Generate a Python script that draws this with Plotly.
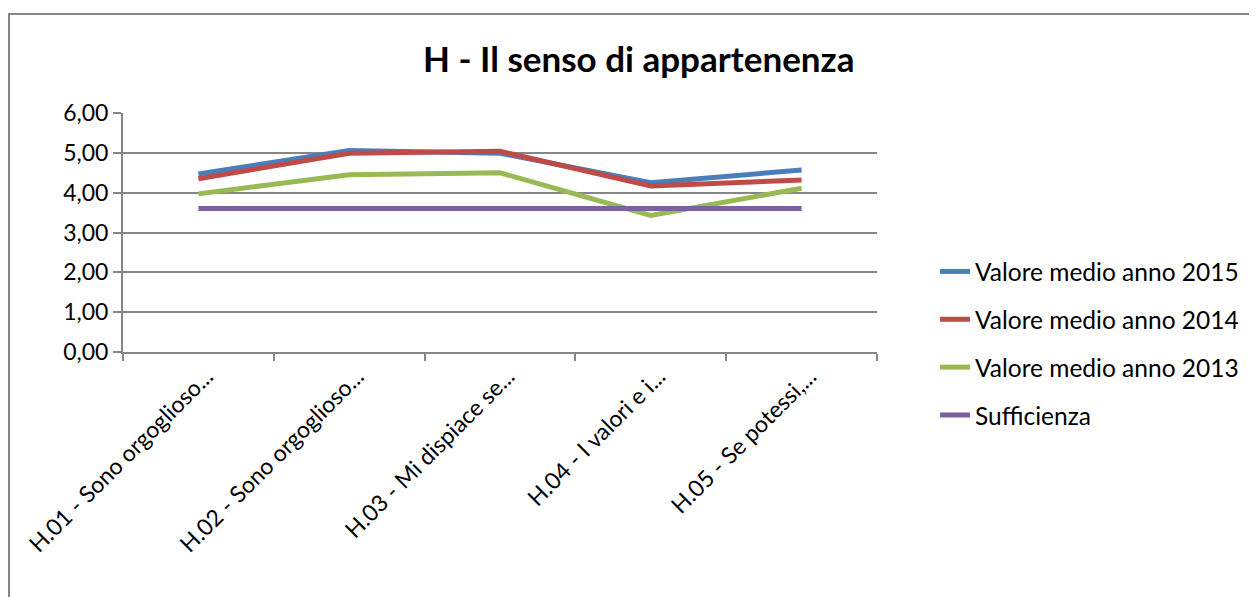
import plotly.graph_objects as go

categories = ["H.01 - Sono orgoglioso...", "H.02 - Sono orgoglioso...", "H.03 - Mi dispiace se...",
              "H.04 - I valori e i...", "H.05 - Se potessi,..."]
val_2015 = [4.47, 5.06, 4.99, 4.25, 4.57]
val_2014 = [4.35, 4.99, 5.04, 4.17, 4.32]
val_2013 = [3.97, 4.45, 4.50, 3.43, 4.11]
sufficienza = [3.60, 3.60, 3.60, 3.60, 3.60]

series = [
    ("Valore medio anno 2015", val_2015, "#4A7EBB"),
    ("Valore medio anno 2014", val_2014, "#BE4B48"),
    ("Valore medio anno 2013", val_2013, "#98B954"),
    ("Sufficienza", sufficienza, "#7D60A0"),
]

FONT = "Lato, 'Open Sans', sans-serif"
FS = 23
fig = go.Figure()
for i, (name, vals, col) in enumerate(series):
    fig.add_trace(go.Scatter(x=categories, y=vals, mode="lines", name=name,
                             legendgroup=f"g{i}",
                             line=dict(color=col, width=5)))

# page body has an 8px margin; figure coordinates = screen - 8
W, H = 1249, 589
L, T = 115, 105
pw, ph = 754, 239
R, B = W - L - pw, H - T - ph
fig.update_layout(
    width=W, height=H,
    margin=dict(l=L, r=R, t=T, b=B, autoexpand=False),
    paper_bgcolor="white", plot_bgcolor="white",
    separators=",.",
    font=dict(family=FONT, size=FS, color="black"),
    title=dict(text="<b>H - Il senso di appartenenza</b>", x=0.505, xref="container",
               y=1 - 52 / H, yref="container", xanchor="center", yanchor="middle",
               font=dict(size=35, family=FONT)),
    legend=dict(x=(927 - L) / pw, xanchor="left", y=(T + ph - 241) / ph, yanchor="top",
                font=dict(size=24.5), tracegroupgap=13, traceorder="grouped",
                bgcolor="rgba(0,0,0,0)"),
    showlegend=True,
    shapes=[dict(type="rect", xref="paper", yref="paper",
                 x0=-(L - 1) / pw, x1=2.0, y0=-2.0, y1=(ph + T - 6) / ph,
                 line=dict(color="#868686", width=2), fillcolor="rgba(0,0,0,0)", layer="below")],
)
fig.update_xaxes(type="category", range=[-0.5, len(categories) - 0.5], tickangle=-45,
                 showline=True, linecolor="#868686", linewidth=2,
                 ticks="outside", tickson="boundaries", ticklen=7, tickcolor="#868686", tickwidth=2,
                 showgrid=False, automargin=False, ticklabelshift=8,
                 tickfont=dict(size=FS, family=FONT))
fig.update_yaxes(range=[0, 6], dtick=1, tickformat=".2f", showline=True, linecolor="#868686",
                 linewidth=2, ticks="outside", ticklen=8, tickcolor="#868686", tickwidth=2,
                 showgrid=True, gridcolor="#868686", gridwidth=2, zeroline=False,
                 automargin=False, tickfont=dict(size=FS, family=FONT))
fig.write_html("out.html")
